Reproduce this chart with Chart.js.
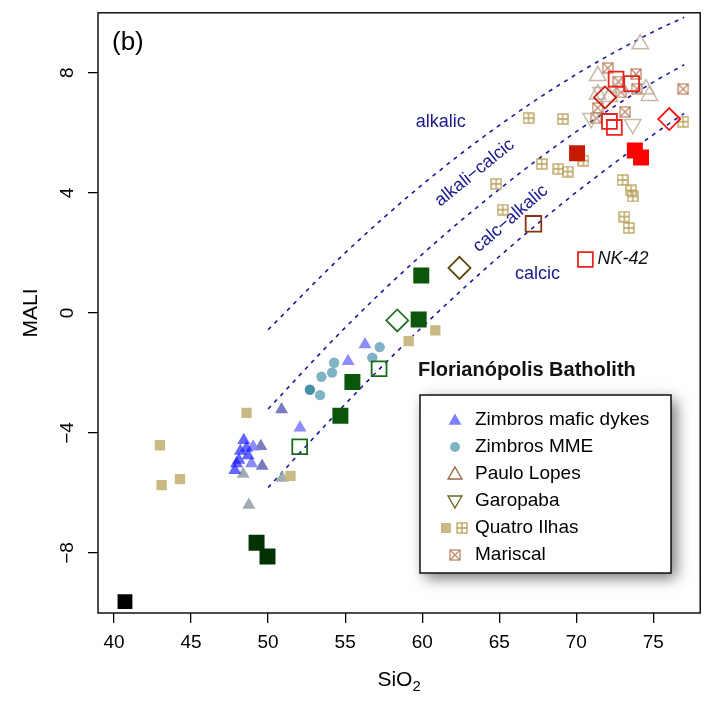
<!DOCTYPE html>
<html>
<head>
<meta charset="utf-8">
<script src="https://cdn.jsdelivr.net/npm/chart.js@4.4.0/dist/chart.umd.min.js"></script>
<style>
  html, body { margin: 0; padding: 0; background: #fff; }
  #wrap { width: 713px; height: 702px; }
</style>
</head>
<body>
<div id="wrap"><canvas id="mali" width="713" height="702"></canvas></div>
<script>
// axis ticks
const xTicks = [40, 45, 50, 55, 60, 65, 70, 75];
const yTicks = [-8, -4, 0, 4, 8];

// MALI boundary curves
const curveSiO2 = [50, 55, 60, 65, 70, 75, 77];
const alkalicBound = [-0.56, 2.0, 4.27, 6.25, 7.95, 9.37, 9.85];
const alkaliCalcicBound = [-3.2, -0.49, 1.95, 4.12, 6.04, 7.69, 8.27];
const calcAlkalicBound = [-5.82, -3.04, -0.47, 1.88, 4.02, 5.94, 6.65];

// samples as [SiO2, MALI]
const dykesBlue = [[48.42, -4.24], [48.2, -4.6], [48.7, -4.75], [47.95, -5.02], [47.84, -5.24], [48.1, -4.9], [48.6, -4.5]];
const dykesLight = [[56.29, -1.05], [55.19, -1.61], [52.07, -3.83], [49.03, -4.46], [48.92, -5.02]];
const dykesSlate = [[50.87, -3.22], [49.53, -4.44], [49.61, -5.10]];
const dykesGrey = [[48.38, -5.37], [50.91, -5.50], [48.75, -6.40]];
const mme = [[57.24, -1.14], [56.76, -1.49], [54.28, -1.66], [54.15, -1.99], [53.46, -2.13], [53.37, -2.74]];
const mmeDark = [[52.71, -2.56]];
const pauloLopes = [[74.15, 8.96], [71.39, 7.90], [74.52, 7.46], [74.74, 7.24], [71.39, 7.29], [72.15, 7.20], [72.9, 7.5]];
const garopaba = [[70.96, 6.49], [73.66, 6.29], [71.6, 7.35]];
const quatroSolid = [[48.6, -3.33], [42.98, -4.41], [43.09, -5.74], [44.28, -5.54], [51.45, -5.43], [60.85, -0.58], [59.12, -0.94]];
const quatroGrid = [[66.9, 6.49], [69.12, 6.46], [76.94, 6.37], [67.76, 4.96], [68.84, 4.80], [69.44, 4.71], [70.46, 5.07],
  [64.8, 4.30], [65.23, 3.44], [73.0, 4.43], [73.55, 4.08], [73.66, 3.88], [73.12, 3.21], [73.40, 2.83]];
const mariscal = [[72.04, 8.16], [73.87, 7.96], [72.73, 7.71], [73.93, 7.47], [76.94, 7.46], [71.39, 6.83], [73.16, 6.70], [71.28, 6.49], [72.9, 7.35]];
const redSolidDark = [[70.05, 5.32]];
const redSolid = [[73.8, 5.41], [74.2, 5.18]];
const redOpen = [[72.58, 7.79], [73.59, 7.64], [72.15, 6.38], [72.47, 6.18], [70.59, 1.78]];
const redDiamondDark = [[71.86, 7.18]];
const redDiamond = [[76.03, 6.46]];
const brownOpen = [[67.22, 2.97]];
const greenOpen = [[52.05, -4.46], [57.2, -1.86]];
const greenDiamond = [[58.38, -0.25]];
const oliveDiamond = [[62.42, 1.50]];
const greenSolid = [[59.94, 1.25], [59.77, -0.22], [55.47, -2.30], [54.69, -3.43]];
const darkGreenSolid = [[49.25, -7.66], [49.96, -8.12]];
const blackSolid = [[40.71, -9.62]];

const FONT = "'Liberation Sans', Arial, sans-serif";

const pts = arr => arr.map(([x, y]) => ({ x, y }));

// square glyph with an inner plus or cross
function boxGlyph(size, color, kind) {
    const c = document.createElement('canvas');
    c.width = c.height = size;
    const g = c.getContext('2d');
    g.strokeStyle = color;
    g.lineWidth = 1.3;
    g.strokeRect(1, 1, size - 2, size - 2);
    g.beginPath();
    if (kind === 'plus') {
        g.moveTo(size / 2, 1); g.lineTo(size / 2, size - 1);
        g.moveTo(1, size / 2); g.lineTo(size - 1, size / 2);
    } else {
        g.moveTo(1, 1); g.lineTo(size - 1, size - 1);
        g.moveTo(size - 1, 1); g.lineTo(1, size - 1);
    }
    g.stroke();
    return c;
}

const gridGlyph = boxGlyph(12, 'rgba(176,150,72,0.9)', 'plus');
const crossGlyph = boxGlyph(12, 'rgba(180,116,84,0.85)', 'cross');

const marker = (data, style, radius, fill, stroke, width, extra) => Object.assign({
    data: pts(data),
    pointStyle: style,
    pointRadius: radius,
    pointBackgroundColor: fill,
    pointBorderColor: stroke,
    pointBorderWidth: width,
    showLine: false
}, extra || {});

const boundary = vals => ({
    data: curveSiO2.map((x, i) => ({ x, y: vals[i] })),
    showLine: true,
    borderColor: '#1a1a99',
    borderWidth: 1.6,
    borderDash: [4, 5],
    pointRadius: 0,
    cubicInterpolationMode: 'monotone',
    fill: false
});

const datasets = [
    marker(redOpen, 'rect', 10.5, 'rgba(0,0,0,0)', '#e8241c', 1.8),
    marker(redDiamondDark, 'rectRot', 11, 'rgba(0,0,0,0)', '#c8200e', 1.8),
    marker(redDiamond, 'rectRot', 11, 'rgba(0,0,0,0)', '#ff1010', 1.8),
    marker(redSolidDark, 'rect', 11.3, '#c41a00', '#c41a00', 0),
    marker(redSolid, 'rect', 11.3, '#ff0000', '#ff0000', 0),
    marker(brownOpen, 'rect', 11, 'rgba(0,0,0,0)', '#8b3010', 1.8),
    marker(greenOpen, 'rect', 10.5, 'rgba(0,0,0,0)', '#1a6a1a', 1.8),
    marker(greenDiamond, 'rectRot', 11, 'rgba(0,0,0,0)', '#2a702a', 1.8),
    marker(oliveDiamond, 'rectRot', 11, 'rgba(0,0,0,0)', '#5a4a10', 1.8),
    marker(greenSolid, 'rect', 11.3, '#0a560a', '#0a560a', 0),
    marker(darkGreenSolid, 'rect', 11.3, '#033303', '#033303', 0),
    marker(blackSolid, 'rect', 10.5, '#000', '#000', 0),
    marker(pauloLopes, 'triangle', 9.5, 'rgba(0,0,0,0)', 'rgba(190,170,155,0.85)', 1.5),
    marker(garopaba, 'triangle', 9.5, 'rgba(0,0,0,0)', 'rgba(190,178,160,0.85)', 1.5, { rotation: 180 }),
    marker(mariscal, crossGlyph, 6, null, null, 0),
    marker(quatroGrid, gridGlyph, 6, null, null, 0),
    marker(quatroSolid, 'rect', 7.3, '#c9ba85', '#c9ba85', 0),
    marker(mme, 'circle', 5.2, '#7fb3c5', '#7fb3c5', 0),
    marker(mmeDark, 'circle', 5.2, '#4a8fa8', '#4a8fa8', 0),
    marker(dykesBlue, 'triangle', 7.5, 'rgba(20,20,255,0.65)', 'rgba(0,0,0,0)', 0),
    marker(dykesLight, 'triangle', 7.5, 'rgba(128,128,255,0.9)', 'rgba(0,0,0,0)', 0),
    marker(dykesSlate, 'triangle', 7.5, 'rgba(100,100,180,0.85)', 'rgba(0,0,0,0)', 0),
    marker(dykesGrey, 'triangle', 7.5, 'rgba(150,163,168,0.9)', 'rgba(0,0,0,0)', 0),
    boundary(alkalicBound),
    boundary(alkaliCalcicBound),
    boundary(calcAlkalicBound)
];

// text placed in data coordinates
const curveLabels = [
    { text: 'alkalic', x: 61.2, y: 6.37, angle: 0 },
    { text: 'alkali\u2212calcic', x: 63.4, y: 4.67, angle: -39 },
    { text: 'calc\u2212alkalic', x: 65.73, y: 3.14, angle: -41 },
    { text: 'calcic', x: 67.48, y: 1.28, angle: 0 }
];

const legendRows = [
    { label: 'Zimbros mafic dykes', sym: 'triFill' },
    { label: 'Zimbros MME', sym: 'circle' },
    { label: 'Paulo Lopes', sym: 'triOpen' },
    { label: 'Garopaba', sym: 'triDown' },
    { label: 'Quatro Ilhas', sym: 'quatro' },
    { label: 'Mariscal', sym: 'cross' }
];

function tri(ctx, x, y, r, down) {
    const s = down ? -1 : 1;
    ctx.beginPath();
    ctx.moveTo(x, y - s * r);
    ctx.lineTo(x + r * 0.866, y + s * r * 0.5);
    ctx.lineTo(x - r * 0.866, y + s * r * 0.5);
    ctx.closePath();
}

const overlay = {
    id: 'overlay',
    afterDraw(chart) {
        const { ctx, chartArea: a, scales: { x, y } } = chart;
        ctx.save();

        // plot frame
        ctx.strokeStyle = '#000';
        ctx.lineWidth = 1.4;
        ctx.strokeRect(a.left, a.top, a.right - a.left, a.bottom - a.top);

        // y tick labels, rotated like the original
        ctx.fillStyle = '#000';
        ctx.font = '19px ' + FONT;
        ctx.textAlign = 'center';
        ctx.textBaseline = 'middle';
        yTicks.forEach(v => {
            ctx.save();
            ctx.translate(68, y.getPixelForValue(v));
            ctx.rotate(-Math.PI / 2);
            ctx.fillText(String(v).replace('-', '\u2212'), 0, 0);
            ctx.restore();
        });

        // axis titles
        ctx.font = '21px ' + FONT;
        ctx.save();
        ctx.translate(31, (a.top + a.bottom) / 2);
        ctx.rotate(-Math.PI / 2);
        ctx.fillText('MALI', 0, 0);
        ctx.restore();

        const cx = (a.left + a.right) / 2;
        ctx.textAlign = 'left';
        const w1 = ctx.measureText('SiO').width;
        ctx.font = '15px ' + FONT;
        const w2 = ctx.measureText('2').width;
        const sx = cx - (w1 + w2) / 2;
        ctx.font = '21px ' + FONT;
        ctx.fillText('SiO', sx, 680);
        ctx.font = '15px ' + FONT;
        ctx.fillText('2', sx + w1, 687);

        // panel tag
        ctx.font = '26px ' + FONT;
        ctx.fillText('(b)', 112, 43);

        // boundary names
        ctx.fillStyle = '#1a1a8c';
        ctx.font = '18px ' + FONT;
        ctx.textAlign = 'center';
        curveLabels.forEach(l => {
            ctx.save();
            ctx.translate(x.getPixelForValue(l.x), y.getPixelForValue(l.y));
            ctx.rotate(l.angle * Math.PI / 180);
            ctx.fillText(l.text, 0, 0);
            ctx.restore();
        });

        // sample tag
        ctx.fillStyle = '#111';
        ctx.font = 'italic 18px ' + FONT;
        ctx.textAlign = 'left';
        ctx.fillText('NK-42', x.getPixelForValue(71.37), y.getPixelForValue(1.78));

        // legend title
        ctx.font = 'bold 20px ' + FONT;
        ctx.fillText('Florian\u00f3polis Batholith', 418, 370);

        // legend box with soft shadow
        const bx = 420, by = 395, bw = 251, bh = 178;
        ctx.save();
        ctx.shadowColor = 'rgba(0,0,0,0.55)';
        ctx.shadowBlur = 14;
        ctx.shadowOffsetX = 5;
        ctx.shadowOffsetY = 5;
        ctx.fillStyle = '#fff';
        ctx.fillRect(bx, by, bw, bh);
        ctx.restore();
        ctx.strokeStyle = '#000';
        ctx.lineWidth = 1.4;
        ctx.strokeRect(bx, by, bw, bh);

        ctx.font = '19px ' + FONT;
        legendRows.forEach((row, i) => {
            const ry = 420 + i * 27;
            const sx0 = 455;
            switch (row.sym) {
                case 'triFill':
                    tri(ctx, sx0, ry + 1, 7.5, false);
                    ctx.fillStyle = '#8080ff';
                    ctx.fill();
                    break;
                case 'circle':
                    ctx.beginPath();
                    ctx.arc(sx0, ry, 5, 0, Math.PI * 2);
                    ctx.fillStyle = '#7fb3c5';
                    ctx.fill();
                    break;
                case 'triOpen':
                    tri(ctx, sx0, ry + 1, 8, false);
                    ctx.strokeStyle = '#9a6a4a';
                    ctx.lineWidth = 1.4;
                    ctx.stroke();
                    break;
                case 'triDown':
                    tri(ctx, sx0, ry - 1, 8, true);
                    ctx.strokeStyle = '#6e6526';
                    ctx.lineWidth = 1.4;
                    ctx.stroke();
                    break;
                case 'quatro':
                    ctx.fillStyle = '#c9ba85';
                    ctx.fillRect(sx0 - 14, ry - 5, 10, 10);
                    ctx.drawImage(gridGlyph, sx0 + 1, ry - 6);
                    break;
                case 'cross':
                    ctx.drawImage(crossGlyph, sx0 - 6, ry - 6);
                    break;
            }
            ctx.fillStyle = '#000';
            ctx.textAlign = 'left';
            ctx.textBaseline = 'middle';
            ctx.fillText(row.label, 475, ry);
        });

        ctx.restore();
    }
};

new Chart(document.getElementById('mali'), {
    type: 'scatter',
    data: { datasets },
    options: {
        responsive: false,
        animation: false,
        layout: { padding: { top: 12, right: 12, left: 0, bottom: 0 } },
        plugins: {
            legend: { display: false },
            tooltip: { enabled: false }
        },
        scales: {
            x: {
                type: 'linear',
                min: 38.96,
                max: 78.04,
                afterBuildTicks: s => { s.ticks = xTicks.map(v => ({ value: v })); },
                afterFit: s => { s.height = 89; },
                border: { display: false },
                grid: { display: true, drawOnChartArea: false, drawTicks: true, tickLength: 10, color: '#000', lineWidth: 1.3 },
                ticks: { color: '#000', padding: 8, font: { family: FONT, size: 19 } }
            },
            y: {
                type: 'linear',
                min: -10,
                max: 10,
                afterBuildTicks: s => { s.ticks = yTicks.map(v => ({ value: v })); },
                afterFit: s => { s.width = 98; },
                border: { display: false },
                grid: { display: true, drawOnChartArea: false, drawTicks: true, tickLength: 10, color: '#000', lineWidth: 1.3 },
                ticks: { display: false }
            }
        }
    },
    plugins: [overlay]
});
</script>
</body>
</html>
